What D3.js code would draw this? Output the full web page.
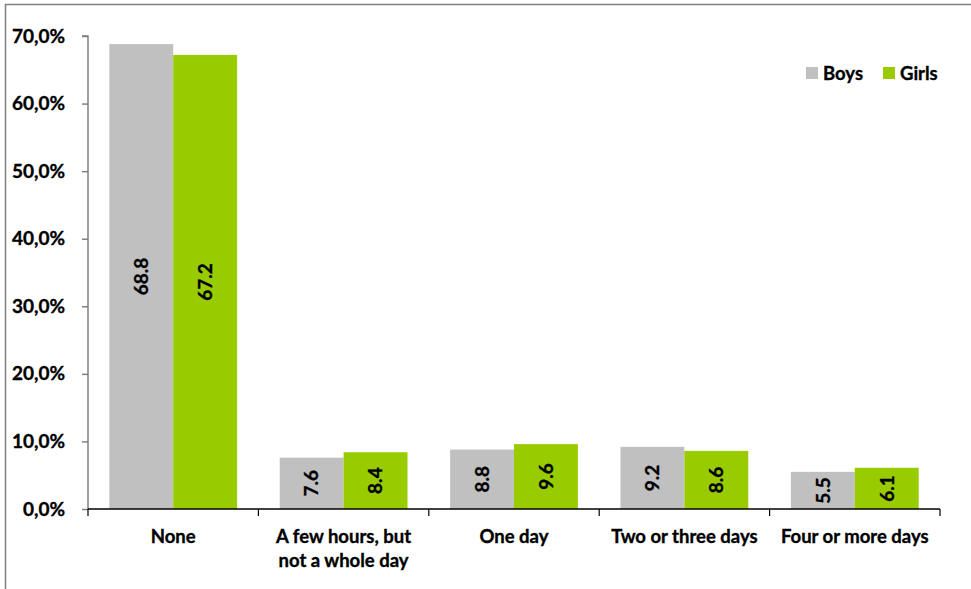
<!DOCTYPE html>
<html><head><meta charset="utf-8">
<script src="https://cdn.jsdelivr.net/npm/d3@7"></script>
<style>body{margin:0;background:#fff}svg{display:block}text{font-family:Lato,"Open Sans",sans-serif;font-weight:bold;fill:#000;stroke:#000;stroke-width:0.35px}</style>
</head><body>
<script>
const categories = ["None", "A few hours, but|not a whole day", "One day", "Two or three days", "Four or more days"];
const seriesNames = ["Boys", "Girls"];
const boys = [68.8, 7.6, 8.8, 9.2, 5.5];
const girls = [67.2, 8.4, 9.6, 8.6, 6.1];
const yTicks = [0, 10, 20, 30, 40, 50, 60, 70];
const colors = ["#C0C0C0", "#99CC00"];

const W = 971, H = 589;
const svg = d3.select("body").append("svg").attr("width", W).attr("height", H);
svg.append("rect").attr("x", 5.5).attr("y", 4.5).attr("width", W + 10).attr("height", H + 10)
  .attr("fill", "none").attr("stroke", "#7f7f7f").attr("stroke-width", 1.5);

const m = {left: 88, right: 940, top: 36, bottom: 509};
const x0 = d3.scaleBand().domain(categories).range([m.left, m.right]).paddingInner(0.25).paddingOuter(0.125);
const x1 = d3.scaleBand().domain(seriesNames).range([0, x0.bandwidth()]);
const y = d3.scaleLinear().domain([0, 70]).range([m.bottom, m.top]);

const data = categories.map((c, i) => ({c, vals: [boys[i], girls[i]]}));

const g = svg.append("g");
data.forEach(d => {
  d.vals.forEach((v, j) => {
    const bx = x0(d.c) + x1(seriesNames[j]);
    g.append("rect").attr("x", bx).attr("y", y(v)).attr("width", x1.bandwidth()).attr("height", y(0) - y(v))
      .attr("fill", colors[j]);
    const cx = bx + x1.bandwidth() / 2, cy = (y(v) + y(0)) / 2;
    g.append("text").attr("transform", `translate(${cx},${cy}) rotate(-90)`)
      .attr("text-anchor", "middle").attr("dy", "0.36em").style("font-size", "19px").text(v.toFixed(1));
  });
});

// Y axis
const yAxis = svg.append("g").attr("transform", `translate(${m.left},0)`)
  .call(d3.axisLeft(y).tickValues(yTicks).tickSize(6).tickPadding(17).tickFormat(d => d.toFixed(1).replace(".", ",") + "%"));
yAxis.select(".domain").attr("stroke", "#808080").attr("stroke-width", 1.5).attr("d", `M-6,${y(70)}H0V${y(0)}`);
yAxis.selectAll(".tick line").attr("stroke", "#808080").attr("stroke-width", 1.5);
yAxis.selectAll(".tick text").style("font-size", "19px").attr("font-family", null).attr("fill", null);

// X axis
const xg = svg.append("g");
xg.append("line").attr("x1", m.left).attr("x2", m.right).attr("y1", y(0)).attr("y2", y(0)).attr("stroke", "#000").attr("stroke-width", 1.5);
const step = x0.step();
const bounds = categories.map((c, i) => x0(c) - x0.paddingInner() * step / 2).concat([m.right]);
bounds.forEach(b => xg.append("line").attr("x1", b).attr("x2", b).attr("y1", y(0)).attr("y2", y(0) + 7).attr("stroke", "#000").attr("stroke-width", 1.2));
categories.forEach(c => {
  const lines = c.split("|");
  const t = xg.append("text").attr("text-anchor", "middle").style("font-size", "18.5px");
  lines.forEach((l, k) => t.append("tspan").attr("x", x0(c) + x0.bandwidth() / 2).attr("y", 543 + k * 24).text(l));
});

// Legend
const lg = svg.append("g");
const legX = [806, 883];
seriesNames.forEach((s, j) => {
  lg.append("rect").attr("x", legX[j]).attr("y", 67).attr("width", 12).attr("height", 12).attr("fill", colors[j]);
  lg.append("text").attr("x", legX[j] + 17).attr("y", 80).style("font-size", "18.5px").text(s);
});
</script>
</body></html>
